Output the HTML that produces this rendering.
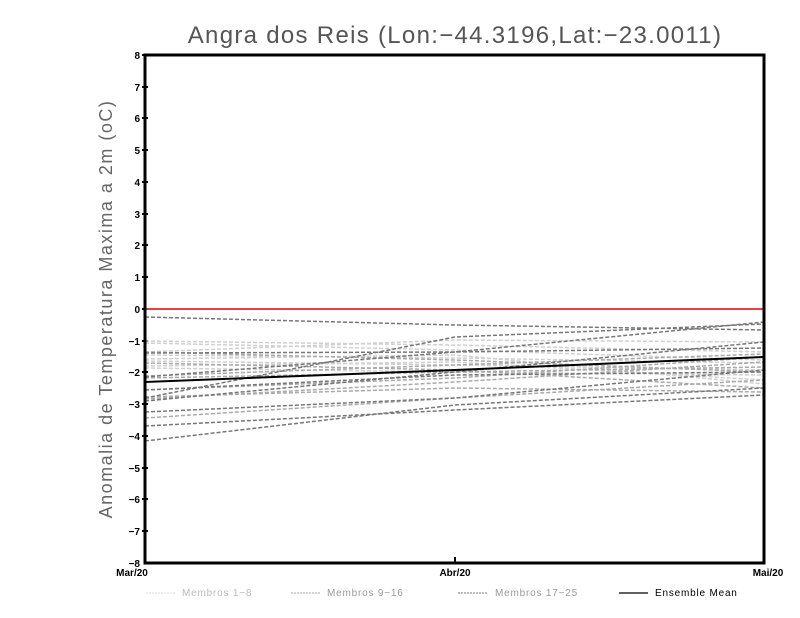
<!DOCTYPE html>
<html><head><style>body{margin:0;background:#fff}svg{display:block}</style></head><body>
<svg width="800" height="618" xmlns="http://www.w3.org/2000/svg" font-family="Liberation Sans, sans-serif">
<rect width="800" height="618" fill="#fff"/>
<text x="455" y="43" text-anchor="middle" font-size="24" fill="#555" letter-spacing="1.3">Angra dos Reis (Lon:−44.3196,Lat:−23.0011)</text>
<text transform="translate(112,309) rotate(-90)" text-anchor="middle" font-size="18" fill="#666" letter-spacing="1.5">Anomalia de Temperatura Maxima a 2m (oC)</text>
<g font-size="10" font-weight="bold" text-anchor="end" fill="#000">
<text x="140" y="59">8</text><text x="140" y="91">7</text><text x="140" y="122">6</text><text x="140" y="154">5</text><text x="140" y="186">4</text><text x="140" y="218">3</text><text x="140" y="249">2</text><text x="140" y="281">1</text><text x="140" y="313">0</text><text x="140" y="345">−1</text><text x="140" y="376">−2</text><text x="140" y="408">−3</text><text x="140" y="440">−4</text><text x="140" y="472">−5</text><text x="140" y="503">−6</text><text x="140" y="535">−7</text><text x="140" y="567">−8</text>
</g>
<g stroke="#000" stroke-width="2">
<line x1="142" y1="55" x2="148" y2="55"/><line x1="142" y1="87" x2="148" y2="87"/><line x1="142" y1="118" x2="148" y2="118"/><line x1="142" y1="150" x2="148" y2="150"/><line x1="142" y1="182" x2="148" y2="182"/><line x1="142" y1="214" x2="148" y2="214"/><line x1="142" y1="245" x2="148" y2="245"/><line x1="142" y1="277" x2="148" y2="277"/><line x1="142" y1="309" x2="148" y2="309"/><line x1="142" y1="341" x2="148" y2="341"/><line x1="142" y1="372" x2="148" y2="372"/><line x1="142" y1="404" x2="148" y2="404"/><line x1="142" y1="436" x2="148" y2="436"/><line x1="142" y1="468" x2="148" y2="468"/><line x1="142" y1="499" x2="148" y2="499"/><line x1="142" y1="531" x2="148" y2="531"/>
</g>
<line x1="145" y1="309" x2="764" y2="309" stroke="#e84040" stroke-width="2"/>
<g fill="none" stroke-dasharray="4,2" stroke-width="1.5">
<g stroke="#d0d0d0">
<polyline points="145,341 455,345 764,352"/>
<polyline points="145,343 455,350 764,360"/>
<polyline points="145,355 455,358 764,363"/>
<polyline points="145,361 455,365 764,370"/>
<polyline points="145,366 455,362 764,380"/>
<polyline points="145,352 455,340 764,342"/>
<polyline points="145,368 455,372 764,375"/>
<polyline points="145,359 455,355 764,384"/>
</g>
<g stroke="#aaa">
<polyline points="145,363 455,370 764,388"/>
<polyline points="145,376 455,365 764,354"/>
<polyline points="145,378 455,372 764,367"/>
<polyline points="145,390 455,378 764,357"/>
<polyline points="145,399 455,382 764,362"/>
<polyline points="145,352 455,360 764,372"/>
<polyline points="145,418 455,398 764,380"/>
<polyline points="145,397 455,388 764,392"/>
</g>
<g stroke="#777">
<polyline points="145,317 455,325 764,330"/>
<polyline points="145,353 455,352 764,348"/>
<polyline points="145,377 455,352 764,322"/>
<polyline points="145,398 455,337 764,324"/>
<polyline points="145,401 455,372 764,342"/>
<polyline points="145,412 455,398 764,370"/>
<polyline points="145,426 455,410 764,395"/>
<polyline points="145,441 455,405 764,388"/>
<polyline points="145,390 455,375 764,372"/>
</g>
</g>
<polyline points="145,382 455,370 764,357" fill="none" stroke="#000" stroke-width="2"/>
<rect x="145" y="55" width="619" height="508" fill="none" stroke="#000" stroke-width="3"/>
<line x1="455" y1="557" x2="455" y2="563" stroke="#000" stroke-width="2"/>
<g font-size="10" font-weight="bold" text-anchor="middle">
<text x="132" y="576">Mar/20</text><text x="455" y="576">Abr/20</text><text x="768" y="576">Mai/20</text>
</g>
<g font-size="10" fill="#bbb" letter-spacing="0.8">
<line x1="146" y1="593" x2="176" y2="593" stroke="#ddd" stroke-dasharray="2,1"/><text x="182" y="596">Membros 1−8</text>
</g>
<g font-size="10" fill="#999" letter-spacing="0.8">
<line x1="291" y1="593" x2="321" y2="593" stroke="#aaa" stroke-dasharray="2,1"/><text x="327" y="596">Membros 9−16</text>
<line x1="458" y1="593" x2="488" y2="593" stroke="#777" stroke-dasharray="2,1"/><text x="495" y="596">Membros 17−25</text>
</g>
<line x1="619" y1="593" x2="648" y2="593" stroke="#000" stroke-width="1.2"/><text x="655" y="596" font-size="10" fill="#000" letter-spacing="0.8">Ensemble Mean</text>
</svg>
</body></html>
